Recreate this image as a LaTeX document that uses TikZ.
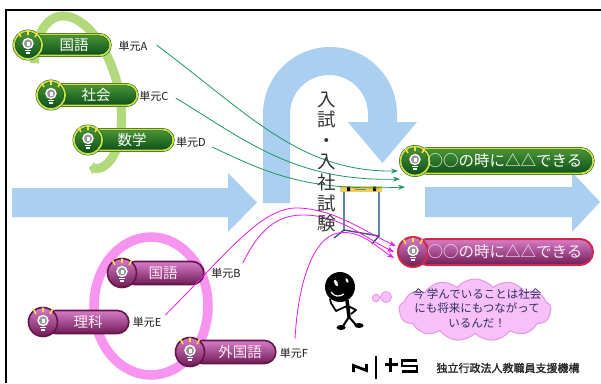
\documentclass[tikz,border=0pt]{standalone}
\usepackage{fontspec}
\newfontfamily\jp{Noto Sans CJK JP}
\newfontfamily\jpheavy[FakeBold=1.6]{Noto Sans CJK JP}
\usetikzlibrary{calc,arrows.meta,shapes.symbols}

\definecolor{flowblue}{RGB}{170,207,240}
\definecolor{ringgreen}{RGB}{178,218,125}
\definecolor{ringpink}{RGB}{246,148,240}
\definecolor{gtop}{RGB}{75,150,55}
\definecolor{gbot}{RGB}{12,80,25}
\definecolor{gdark}{RGB}{20,80,20}
\definecolor{glime}{RGB}{200,225,75}
\definecolor{mtop}{RGB}{215,125,200}
\definecolor{mbot}{RGB}{110,28,85}
\definecolor{mdark}{RGB}{100,20,70}
\definecolor{mred}{RGB}{205,40,75}
\definecolor{lamp}{RGB}{250,225,70}
\definecolor{glinec}{RGB}{30,150,95}
\definecolor{mlinec}{RGB}{235,25,230}
\definecolor{cloudfill}{RGB}{248,192,248}
\definecolor{cloudedge}{RGB}{228,150,228}
\definecolor{cloudtextc}{RGB}{45,45,100}
\definecolor{poleblue}{RGB}{100,130,170}
\definecolor{baseblue}{RGB}{60,80,120}
\definecolor{baryellow}{RGB}{240,205,90}

\tikzset{
  gpill/.style={draw=gdark, double=glime, double distance=1.8pt, line width=0.5pt,
    top color=gtop, bottom color=gbot, rounded corners=10.5pt, minimum height=21pt, inner sep=0pt},
  gbulb/.style={circle, draw=gdark, double=glime, double distance=1.8pt, line width=0.5pt,
    top color=gtop, bottom color=gbot, minimum size=28pt, inner sep=0pt},
  gtext/.style={text=white, font=\jp\fontsize{14.5}{15}\selectfont, inner sep=0pt},
  gRpill/.style={gpill, rounded corners=12.5pt, minimum height=25pt},
  gRbulb/.style={gbulb, minimum size=29pt},
  gRtext/.style={gtext, font=\jp\fontsize{15.5}{16}\selectfont},
  mpill/.style={draw=mdark, line width=1.6pt, top color=mtop, bottom color=mbot,
    rounded corners=11.5pt, minimum height=23pt, inner sep=0pt},
  mbulb/.style={circle, draw=mdark, line width=1.6pt, top color=mtop, bottom color=mbot,
    minimum size=29pt, inner sep=0pt},
  mtext/.style={text=white!92!magenta, font=\jp\fontsize{14.5}{15}\selectfont, inner sep=0pt},
  mRpill/.style={mpill, draw=mred, line width=2pt, rounded corners=13pt, minimum height=26pt},
  mRbulb/.style={mbulb, draw=mred, line width=2pt, minimum size=30pt},
  mRtext/.style={mtext, font=\jp\fontsize{15.5}{16}\selectfont},
  lampray/.style={draw=lamp, line width=1.6pt},
  unitlabel/.style={font=\jp\fontsize{11}{12}\selectfont, inner sep=1pt, text=black!90},
  gline/.style={draw=glinec, line width=0.8pt, -{Stealth[length=7pt,width=5pt]}},
  mline/.style={draw=mlinec, line width=0.8pt, -{Stealth[length=7pt,width=5pt]}},
}

% light bulb drawn inside the round end of a tag
\newcommand\lampicon[2]{%
  \begin{scope}[shift={(#1,#2)}]
    \draw[lampray] (-7,-8) -- (-9.5,-12.5) (0,-10) -- (0,-14.5) (7,-8) -- (9.5,-12.5);
    \draw[white, line width=1.4pt, fill=black!40] (0,-1.5) circle[radius=5pt];
    \fill[white] (-1.5,-3) rectangle (1.5,0.5);
    \fill[white] (-3,4.8) rectangle (3,6.4);
    \fill[white] (-2.4,7.4) rectangle (2.4,8.9);
  \end{scope}}

% tag: name, kind, bulb centre x, y, right end x, text centre x, text
\newcommand\bulbtag[7]{%
  \node[#2pill, anchor=west, minimum width={(#5-#3)*1pt}] (#1) at (#3,#4) {};
  \node[#2bulb] (#1b) at (#3,#4) {};
  \lampicon{#3}{#4}
  \node[#2text] (#1t) at (#6,#4) {#7};
}

\begin{document}
\begin{tikzpicture}[x=1pt,y=-1pt]
\useasboundingbox (0,0) rectangle (601,383);
\fill[white] (0,0) rectangle (601,383);

% flow arrows
\fill[flowblue] (12,188) -- (228,188) -- (228,173) -- (257,202.5) -- (228,232) -- (228,217) -- (12,217) -- cycle;
\fill[flowblue] (263,203) -- (263,114) arc[start angle=180,end angle=0,radius=67pt]
  -- (397,122) -- (417,122) -- (382.5,163) -- (348,122) -- (368,122) -- (368,114)
  arc[start angle=0,end angle=180,radius=39pt] -- (290,203) -- cycle;
\fill[flowblue] (425,187) -- (572,187) -- (572,172) -- (600,202) -- (572,232) -- (572,217) -- (425,217) -- cycle;

% cycle rings behind the subject tags
\begin{scope}[shift={(78,92)}, rotate=15]
  \draw[ringgreen, line width=9pt, -{Triangle[length=5pt,width=13pt]}]
    ([shift={(150:40pt and 78pt)}]0,0) arc[start angle=150, end angle=-103, x radius=40pt, y radius=78pt];
\end{scope}
\draw[ringpink, line width=9.5pt] (151,306) ellipse[x radius=57pt, y radius=69pt];

% hurdle
\draw[poleblue, line width=1.3pt] (344,191) -- (344,230) (379,191) -- (379,236);
\draw[baseblue, line width=1.4pt, line join=round] (334,238) -- (344,230) -- (379,236) -- (372,244);
\fill[baryellow] (340,186) rectangle (382,191.5);
\fill[black] (347,186.5) rectangle (350,191) (373,186.5) rectangle (376,191);
\draw[black!50, line width=0.4pt] (355,189) -- (366,189);

% subject tags
\bulbtag{g1}{g}{28}{45}{110}{74}{国語}
\bulbtag{g2}{g}{51}{95}{137}{96}{社会}
\bulbtag{g3}{g}{88}{140}{173}{132}{数学}
\bulbtag{m1}{m}{122}{273}{203}{163}{国語}
\bulbtag{m2}{m}{43}{322}{128}{88}{理科}
\bulbtag{m3}{m}{190}{352}{275}{240}{外国語}
\bulbtag{gR}{gR}{415}{161}{593}{505}{○○の時に△△できる}
\bulbtag{mR}{mR}{413}{252}{592}{505}{○○の時に△△できる}

% unit labels
\node[unitlabel] (la) at (133,46) {単元A};
\node[unitlabel] (lc) at (154,96) {単元C};
\node[unitlabel] (ld) at (191,142) {単元D};
\node[unitlabel] (lb) at (226,273) {単元B};
\node[unitlabel] (le) at (147,322) {単元E};
\node[unitlabel] (lf) at (294,353) {単元F};

% links from units to the abilities
\draw[gline] ($(la.east)+(8,-1)$) .. controls (250,115) and (300,172) .. ($(gR.west)+(-17,10)$);
\draw[gline] ($(lc.east)+(6,2)$) .. controls (245,140) and (295,182) .. ($(gR.west)+(-15,18)$);
\draw[gline] ($(ld.east)+(5,5)$) .. controls (262,170) and (302,192) .. ($(gR.west)+(-10,26)$);
\draw[mline] ($(le.east)+(3,-7)$) .. controls (230,250) and (262,207) .. (298,208)
  .. controls (335,209) and (365,232) .. ($(mR.west)+(-17,-6)$);
\draw[mline] ($(lb.east)+(1,-10)$) .. controls (258,232) and (275,215) .. (303,215)
  .. controls (340,215) and (365,238) .. ($(mR.west)+(-19,0)$);
\draw[mline] ($(lf.north)+(1,-8)$) .. controls (298,285) and (312,238) .. (338,233)
  .. controls (360,229) and (378,248) .. ($(mR.west)+(-19,6)$);

% vertical caption
\node[align=center, text=black!80, font=\jp\fontsize{18.5}{20.8}\selectfont, inner sep=0pt] (vt) at (327,162)
  {入\\試\\・\\入\\社\\試\\験};

% speech cloud
\node[cloud, cloud puffs=13, cloud puff arc=100, aspect=2.4, draw=cloudedge, fill=cloudfill,
  line width=1pt, minimum width=152pt, minimum height=62pt] (cl) at (475,310) {};
\draw[cloudedge, fill=cloudfill, line width=0.8pt] (386,297) circle[radius=5.5pt] (376,298) circle[radius=3.8pt];
\node[align=center, text=cloudtextc, font=\jp\fontsize{11.5}{14.5}\selectfont, inner sep=0pt] (ct) at (477,308)
  {今 学んでいることは社会\\にも将来にもつながって\\いるんだ！};

% little figure
\fill[black] (340,287) circle[radius=15pt];
\fill[white, rotate around={25:(336,283)}] (336,283) ellipse[x radius=1.6pt, y radius=3.4pt];
\fill[white, rotate around={25:(347,280.5)}] (347,280.5) ellipse[x radius=1.2pt, y radius=2.4pt];
\draw[white, line width=1.2pt] (331,292) .. controls (334,297) and (340,297) .. (344,294);
\draw[black, line width=3.5pt] (347,300) -- (349,317);
\draw[black, line width=1.8pt, line join=round, line cap=round] (347,306) -- (336,311) -- (331,303) -- (330,299);
\draw[black, line width=1.8pt, line join=round] (348,306) -- (356,310) -- (351,314);
\draw[black, line width=2pt] (349,317) -- (343,326) (349,317) -- (356,325);
\fill[black] (341,327.5) ellipse[x radius=4.5pt, y radius=2.5pt];
\fill[black] (359,325.5) ellipse[x radius=4.5pt, y radius=2.5pt];

% logo and organisation name
\draw[black, line width=2.8pt] (353.5,372) -- (353.5,365.5) -- (366.5,370.5) -- (366.5,364);
\draw[black, line width=2pt] (376,356) -- (376,379);
\draw[black, line width=2.5pt] (384.5,364.5) -- (398,364.5) (390.5,358) -- (390.5,372);
\draw[black, line width=2.2pt] (417,360.5) -- (402,360.5) -- (402,366) -- (417,366) -- (417,371.5) -- (402,371.5);
\node[font=\jpheavy\fontsize{11}{12}\selectfont, text=black!85, inner sep=0pt] (org) at (508,368) {独立行政法人教職員支援機構};

% frame
\draw[black, line width=2pt] (5,9.5) -- (601,9.5);
\draw[black, line width=2pt] (5.5,8.5) -- (5.5,383);
\end{tikzpicture}
\end{document}
